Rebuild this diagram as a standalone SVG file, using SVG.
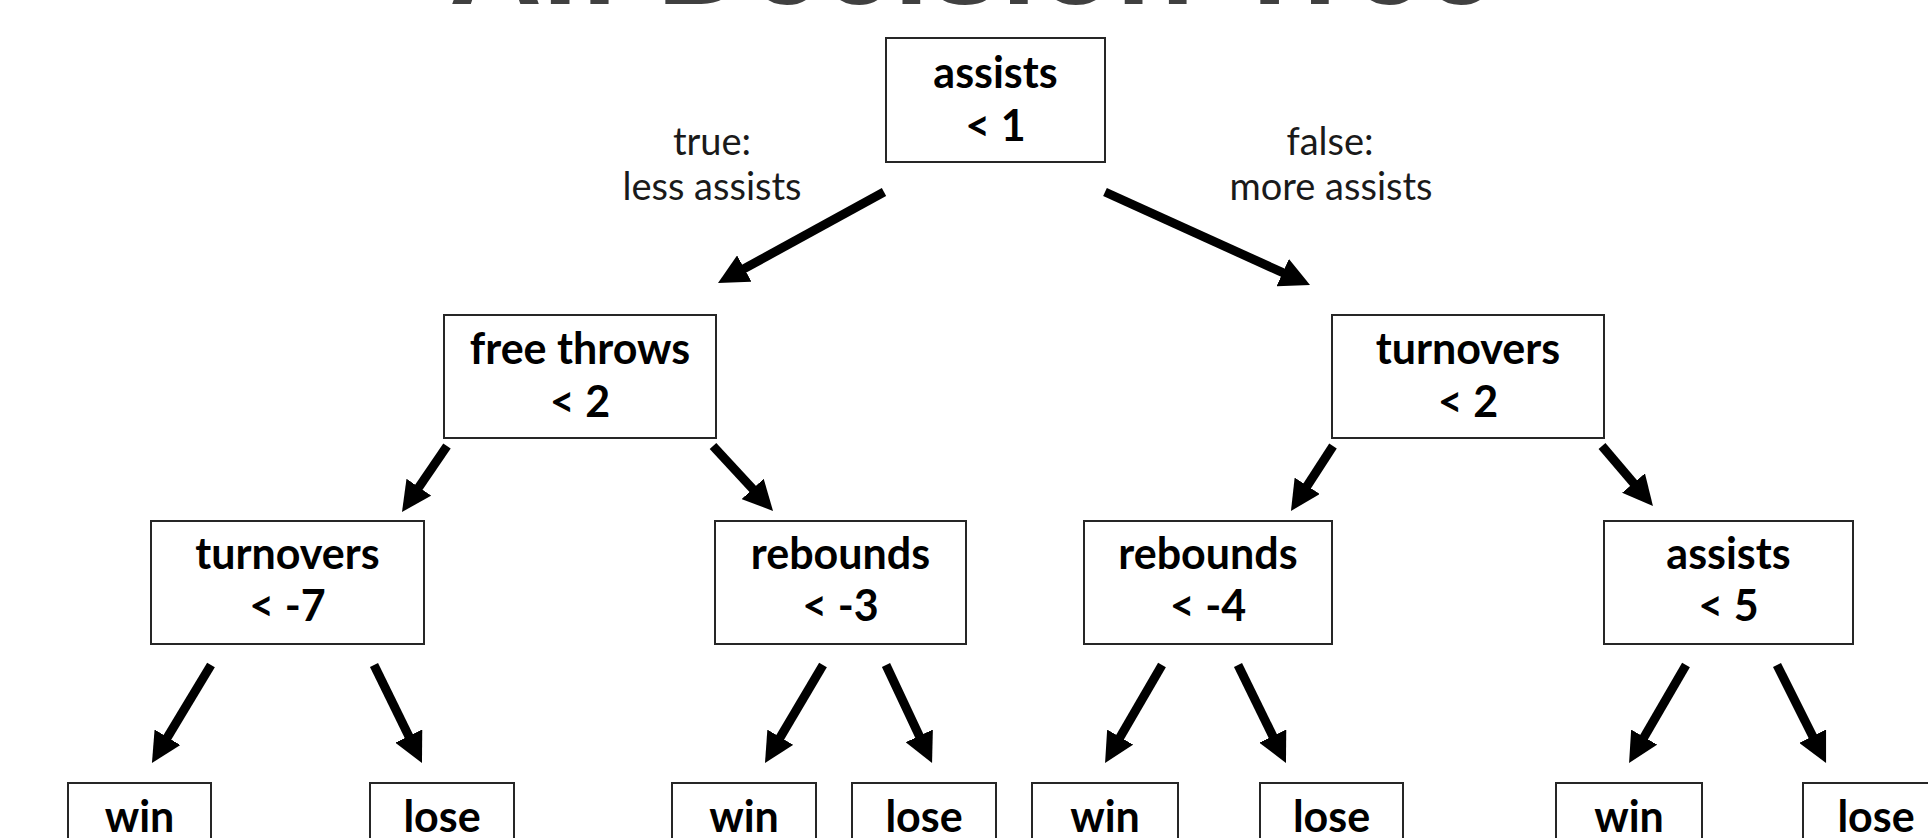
<svg xmlns="http://www.w3.org/2000/svg" width="1928" height="838" viewBox="0 0 1928 838">
<defs>
<style>
.box{fill:#fff;stroke:#262626;stroke-width:2}
.nt{font-family:Lato,"Liberation Sans",sans-serif;font-weight:700;font-size:43px;fill:#000;text-anchor:middle}
.lb{font-family:Lato,"Liberation Sans",sans-serif;font-weight:400;font-size:38px;fill:#1a1a1a;text-anchor:middle}
.title{font-family:"Liberation Sans",Arial,sans-serif;font-weight:700;font-size:129px;fill:#404040}
.arr{stroke:#000;stroke-width:9;fill:none;marker-end:url(#ah)}
</style>
<marker id="ah" markerUnits="userSpaceOnUse" markerWidth="30" markerHeight="30" viewBox="0 0 30 30" refX="8" refY="15" orient="auto">
<path d="M0,0 L30,15 L0,30 Z" fill="#000"/>
</marker>
</defs>
<rect width="1928" height="838" fill="#fff"/>
<text class="title" x="449" y="4">AI: Decision Tree</text>

<g id="connectors">
<line class="arr" x1="884" y1="192" x2="737.3" y2="272.4"/>
<line class="arr" x1="1105" y1="192" x2="1290" y2="275.9"/>
<line class="arr" x1="447" y1="446" x2="414.4" y2="493.8"/>
<line class="arr" x1="713" y1="446" x2="758.1" y2="494.8"/>
<line class="arr" x1="1333" y1="446" x2="1302.9" y2="492.5"/>
<line class="arr" x1="1602" y1="446" x2="1638.7" y2="489.2"/>
<line class="arr" x1="211" y1="665" x2="163.3" y2="744.1"/>
<line class="arr" x1="374" y1="665" x2="412.3" y2="743.2"/>
<line class="arr" x1="823" y1="665" x2="776.2" y2="744.1"/>
<line class="arr" x1="886" y1="665" x2="922.7" y2="743.1"/>
<line class="arr" x1="1162" y1="665" x2="1116.1" y2="744"/>
<line class="arr" x1="1238" y1="665" x2="1276.3" y2="743.2"/>
<line class="arr" x1="1686" y1="665" x2="1640.1" y2="744"/>
<line class="arr" x1="1777" y1="665" x2="1816.2" y2="743.3"/>
<text class="lb" x="712" y="155">true:</text>
<text class="lb" x="712" y="200">less assists</text>
<text class="lb" x="1330" y="155">false:</text>
<text class="lb" x="1331" y="200">more assists</text>
</g>

<g id="n-root">
<rect class="box" x="886" y="38" width="219" height="124"/>
<text class="nt" x="995.5" y="88">assists</text>
<text class="nt" x="995.5" y="141">&lt; 1</text>
</g>
<g id="n-freethrows">
<rect class="box" x="444" y="315" width="272" height="123"/>
<text class="nt" x="580" y="364">free throws</text>
<text class="nt" x="580" y="417">&lt; 2</text>
</g>
<g id="n-turnovers2">
<rect class="box" x="1332" y="315" width="272" height="123"/>
<text class="nt" x="1468" y="364">turnovers</text>
<text class="nt" x="1468" y="417">&lt; 2</text>
</g>
<g id="n-turnovers7">
<rect class="box" x="151" y="521" width="273" height="123"/>
<text class="nt" x="287.5" y="569">turnovers</text>
<text class="nt" x="287.5" y="621">&lt; -7</text>
</g>
<g id="n-rebounds3">
<rect class="box" x="715" y="521" width="251" height="123"/>
<text class="nt" x="840.5" y="569">rebounds</text>
<text class="nt" x="840.5" y="621">&lt; -3</text>
</g>
<g id="n-rebounds4">
<rect class="box" x="1084" y="521" width="248" height="123"/>
<text class="nt" x="1208" y="569">rebounds</text>
<text class="nt" x="1208" y="621">&lt; -4</text>
</g>
<g id="n-assists5">
<rect class="box" x="1604" y="521" width="249" height="123"/>
<text class="nt" x="1728.5" y="569">assists</text>
<text class="nt" x="1728.5" y="621">&lt; 5</text>
</g>

<g id="leaf-win1"><rect class="box" x="68" y="783" width="143" height="80"/><text class="nt" x="139.5" y="832">win</text></g>
<g id="leaf-lose1"><rect class="box" x="370" y="783" width="144" height="80"/><text class="nt" x="442" y="832">lose</text></g>
<g id="leaf-win2"><rect class="box" x="672" y="783" width="144" height="80"/><text class="nt" x="744" y="832">win</text></g>
<g id="leaf-lose2"><rect class="box" x="852" y="783" width="144" height="80"/><text class="nt" x="924" y="832">lose</text></g>
<g id="leaf-win3"><rect class="box" x="1032" y="783" width="146" height="80"/><text class="nt" x="1105" y="832">win</text></g>
<g id="leaf-lose3"><rect class="box" x="1260" y="783" width="143" height="80"/><text class="nt" x="1331.5" y="832">lose</text></g>
<g id="leaf-win4"><rect class="box" x="1556" y="783" width="146" height="80"/><text class="nt" x="1629" y="832">win</text></g>
<g id="leaf-lose4"><rect class="box" x="1803" y="783" width="146" height="80"/><text class="nt" x="1876" y="832">lose</text></g>
</svg>
